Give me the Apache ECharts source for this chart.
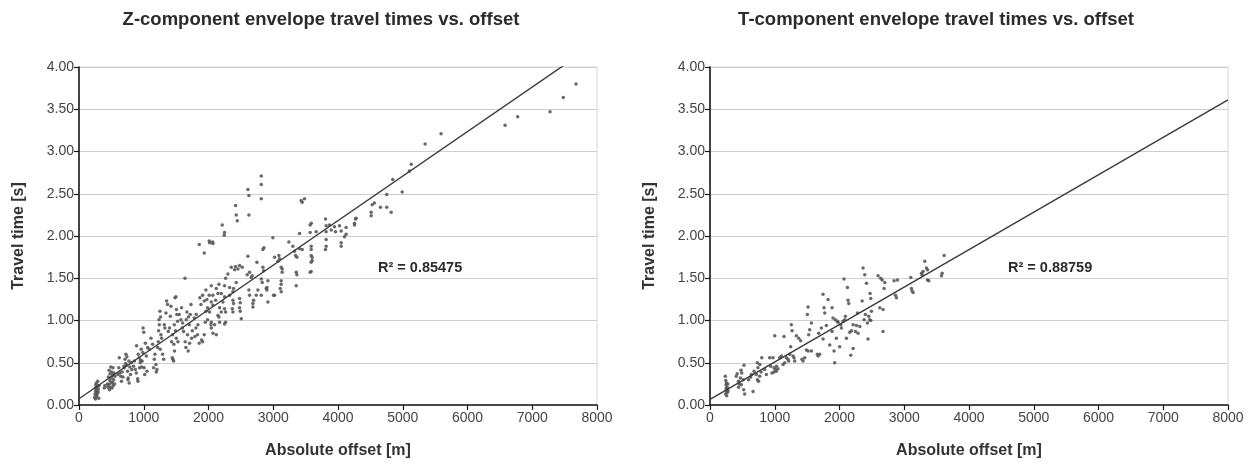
<!DOCTYPE html>
<html>
<head>
<meta charset="utf-8">
<script src="https://cdn.jsdelivr.net/npm/echarts@6.0.0/dist/echarts.min.js"></script>
<style>
  html, body { margin: 0; padding: 0; background: #fff; }
  #chart { width: 1252px; height: 464px; }
</style>
</head>
<body>
<div id="chart"></div>
<script>
// Envelope travel time picks: [absolute offset (m), travel time (s)]
const zPicks = [
  [240,0.09],[248,0.13],[252,0.20],[255,0.07],[258,0.16],[260,0.24],[262,0.11],[265,0.18],[268,0.26],[270,0.10],
  [272,0.14],[275,0.21],[278,0.12],[282,0.17],[285,0.22],[290,0.28],[295,0.15],[300,0.19],[305,0.08],[310,0.23],
  [390,0.20],[400,0.23],[440,0.25],[445,0.21],
  [455,0.33],[460,0.24],[465,0.41],[470,0.18],[475,0.29],[480,0.37],[485,0.21],[490,0.45],[495,0.26],[500,0.32],
  [505,0.39],[510,0.20],[515,0.27],[520,0.35],[525,0.44],[530,0.23],[535,0.30],[540,0.38],[548,0.25],[555,0.34],
  [600,0.36],[615,0.44],[622,0.56],[630,0.38],[645,0.34],[655,0.28],[665,0.39],[680,0.33],[695,0.46],[700,0.44],
  [710,0.54],[720,0.49],[725,0.60],[735,0.47],[740,0.57],[750,0.40],[755,0.30],[760,0.32],[770,0.52],[775,0.26],
  [785,0.45],[795,0.36],[805,0.50],[815,0.42],
  [843,0.46],[855,0.52],[870,0.42],[885,0.38],[890,0.70],[905,0.31],[910,0.28],[915,0.60],[930,0.56],[935,0.44],
  [945,0.50],[950,0.53],[960,0.66],[970,0.45],[975,0.52],[985,0.62],[990,0.91],[1000,0.86],[1005,0.44],[1015,0.36],
  [1025,0.73],[1040,0.58],[1050,0.40],[1060,0.68],
  [1085,0.66],[1111,0.79],[1137,0.72],[1152,0.44],[1163,0.54],[1173,0.60],[1188,0.48],[1193,0.39],[1204,0.42],[1214,0.68],
  [1224,0.75],[1235,1.01],[1240,0.95],[1250,1.11],[1255,0.66],[1265,0.83],[1276,0.79],[1291,0.60],[1307,0.54],[1317,0.95],
  [1327,0.91],[1343,1.09],[1230,0.88],[1260,1.04],
  [1353,1.23],[1368,1.19],[1379,0.87],[1399,0.91],[1410,1.05],[1420,1.17],[1430,0.75],[1440,0.56],[1445,0.83],[1450,0.54],
  [1461,0.52],[1465,0.72],[1471,0.95],[1475,0.64],[1482,1.27],[1497,1.28],[1502,0.79],[1512,1.07],[1523,0.99],[1528,0.75],
  [1490,0.88],[1505,1.13],
  [1548,1.07],[1574,1.01],[1584,1.15],[1595,0.91],[1615,0.87],[1636,1.50],[1640,0.75],[1651,0.68],[1656,1.01],[1667,1.10],
  [1677,0.83],[1687,0.64],[1703,0.95],[1708,0.73],[1718,1.07],[1729,1.19],[1739,0.79],[1600,0.97],[1690,1.04],[1750,0.88],
  [1780,1.03],[1790,0.81],[1806,0.91],[1811,1.07],[1831,0.83],[1837,0.95],[1857,0.73],[1857,1.90],[1867,1.27],[1883,1.19],
  [1893,0.77],[1909,1.30],[1909,0.75],[1934,1.23],[1934,0.83],[1934,1.80],[1960,1.11],[1960,1.36],[1986,1.01],[1986,1.15],
  [2011,1.30],[2011,1.94],[2037,0.95],[2063,1.93],[1950,0.98],[1975,1.25],
  [2017,1.92],[2068,1.91],[2017,1.10],[2043,1.41],[2043,1.22],[2043,0.98],[2043,0.91],[2068,1.30],[2068,1.18],[2068,0.85],
  [2094,0.95],[2110,1.24],[2120,1.38],[2120,0.83],[2146,1.32],[2146,1.06],[2161,1.43],[2161,1.04],[2171,1.15],[2171,0.98],
  [2197,1.32],[2197,1.10],[2212,2.13],[2223,1.22],[2243,2.01],[2248,2.04],[2248,1.41],[2248,1.28],[2248,1.14],[2248,0.96],
  [2264,1.50],[2264,1.10],[2264,0.98],[2300,1.55],[2326,1.39],[2326,1.30],[2351,1.63],[2367,1.14],[2377,1.34],[2377,1.24],
  [2377,1.10],[2387,1.38],[2387,1.20],[2403,1.60],[2418,2.36],[2418,1.64],[2428,2.25],[2428,1.45],[2444,2.18],[2454,1.61],
  [2480,1.65],[2480,1.26],[2480,1.15],[2490,1.21],[2490,1.11],[2506,1.02],[2521,1.63],
  [2598,1.54],[2609,2.55],[2609,1.76],[2624,2.48],[2624,2.25],[2624,1.36],[2634,1.57],[2634,1.30],[2660,1.51],[2675,1.53],
  [2686,1.20],[2686,1.16],[2696,1.24],[2737,1.30],[2747,1.69],[2763,1.36],[2815,2.71],[2815,2.61],[2815,2.44],[2815,1.49],
  [2815,1.30],[2830,1.45],[2840,1.84],[2840,1.63],[2850,1.59],[2856,1.86],[2892,1.38],[2902,1.39],[2902,1.36],[2917,1.47],
  [2917,1.22],[2994,1.98],[3005,1.30],[3020,1.75],[3020,1.30],[3072,1.70],[3087,1.77],[3097,1.73],[3108,1.38],[3123,1.63],
  [3123,1.47],[3123,1.43],[3123,1.34],[3138,1.61],[3138,1.57],
  [3241,1.93],[3303,1.88],[3329,1.82],[3344,1.77],[3355,1.57],[3355,1.41],[3365,1.75],[3365,1.54],[3406,2.03],[3406,1.85],
  [3432,2.42],[3447,2.40],[3447,1.84],[3483,2.44],[3570,2.13],[3570,2.04],[3570,1.57],[3586,1.88],[3586,1.84],[3586,1.77],
  [3586,1.69],[3586,1.58],[3601,1.75],[3601,1.71],[3587,2.15],[3663,2.05],
  [3807,2.20],[3817,2.12],[3817,2.05],[3817,1.96],[3817,1.88],[3807,1.84],[3869,2.13],[3895,2.07],[3946,2.11],[3961,2.05],
  [4023,2.12],[4049,2.06],[4049,1.92],[4049,1.88],[4100,1.99],[4126,2.02],[4125,2.10],[4255,2.13],[4270,2.20],[4280,2.21],
  [4255,2.15],
  [4512,2.24],[4512,2.28],[4527,2.37],[4563,2.39],[4656,2.34],[4753,2.34],[4753,2.49],[4821,2.28],[4846,2.67],[4991,2.52],
  [5103,2.77],[5130,2.85],[5345,3.09],[5592,3.21],[6580,3.31],[6775,3.41],[7275,3.47],[7480,3.64],[7676,3.80]
];

const tPicks = [
  [236,0.34],[240,0.13],[244,0.29],[248,0.24],[250,0.20],[252,0.18],[255,0.26],[258,0.11],[262,0.16],[266,0.21],
  [270,0.15],[274,0.25],[278,0.17],
  [405,0.34],[420,0.37],[440,0.28],[450,0.25],[442,0.21],[470,0.32],[480,0.41],[485,0.24],[490,0.38],[515,0.30],
  [520,0.18],[525,0.47],[535,0.13],
  [596,0.30],[628,0.33],[640,0.36],[665,0.16],[680,0.40],[715,0.36],[731,0.50],[732,0.30],[740,0.44],[750,0.28],
  [767,0.34],[770,0.48],[790,0.39],[800,0.56],[845,0.42],
  [870,0.36],[922,0.56],[937,0.46],[958,0.38],[973,0.56],[988,0.44],[989,0.39],[1000,0.82],[1009,0.42],[1025,0.40],
  [1025,0.46],[1050,0.43],[1076,0.56],
  [1102,0.58],[1128,0.48],[1143,0.81],[1153,0.50],[1179,0.56],[1205,0.54],[1215,0.52],[1231,0.60],[1246,0.69],[1256,0.95],
  [1267,0.88],[1282,0.58],[1298,0.56],[1308,0.52],[1334,0.82],[1370,0.79],[1400,0.76],
  [1421,0.54],[1437,0.52],[1463,0.56],[1488,0.65],[1504,1.07],[1514,1.16],[1514,0.64],[1524,0.83],[1540,0.89],[1566,0.97],
  [1566,0.64],[1658,0.60],[1669,0.58],[1694,0.60],[1679,0.85],[1720,0.91],[1746,0.78],[1746,1.31],[1761,1.15],[1772,1.09],
  [1797,0.94],[1823,1.25],[1849,0.71],
  [1885,1.15],[1885,0.87],[1900,1.03],[1916,0.64],[1926,0.50],[1936,1.01],[1952,0.79],[1967,0.99],[1978,0.98],[2003,0.69],
  [2019,0.95],[2029,0.91],[2055,0.99],[2070,1.49],[2081,1.01],[2091,1.05],[2107,0.79],[2122,1.39],[2132,1.24],[2143,1.20],
  [2158,0.86],[2174,0.59],[2184,0.88],[2210,0.67],[2210,0.95],
  [2246,0.87],[2261,0.94],[2277,1.09],[2287,0.85],[2313,0.93],[2349,1.23],[2364,1.62],[2380,1.01],[2390,1.54],[2400,1.07],
  [2416,1.44],[2431,0.97],[2441,0.78],[2452,1.05],[2467,1.01],[2472,1.32],[2483,1.26],[2483,1.00],[2493,1.11],
  [2596,1.53],[2622,1.15],[2637,1.50],[2658,1.48],[2673,1.13],[2673,0.87],[2689,1.38],[2700,1.45],[2843,1.47],[2864,1.30],
  [2879,1.27],[2895,1.48],
  [3101,1.51],[3111,1.38],[3121,1.35],[3137,1.33],[3266,1.56],[3276,1.54],[3291,1.58],[3317,1.70],[3343,1.62],[3359,1.48],
  [3379,1.47],[3359,1.60],
  [3575,1.53],[3585,1.56],[3616,1.77]
];

// Linear trend lines: travel time = intercept + slope * offset
const zTrend = { intercept: 0.074, slope: 0.000527 };
const tTrend = { intercept: 0.066, slope: 0.000443 };
const r2Labels = ['R\u00b2 = 0.85475', 'R\u00b2 = 0.88759'];

const titles = ['Z-component envelope travel times vs. offset', 'T-component envelope travel times vs. offset'];
const xName = 'Absolute offset [m]';
const yName = 'Travel time [s]';
const offsetRange = [0, 8000];

function trendPoints(tr) {
  return offsetRange.map(x => [x, tr.intercept + tr.slope * x]);
}

const FONT = 'Liberation Sans, Arial, sans-serif';
const axisColor = '#1a1a1a';

function makeXAxis(gridIndex) {
  return {
    gridIndex, type: 'value', min: 0, max: 8000, interval: 1000,
    name: xName, nameLocation: 'middle', nameGap: 38,
    nameTextStyle: { fontFamily: FONT, fontWeight: 'bold', fontSize: 16, color: '#333' },
    axisLine: { lineStyle: { color: axisColor, width: 1.6 } },
    axisTick: { show: true, length: 5, lineStyle: { color: axisColor, width: 1.2 } },
    axisLabel: { fontFamily: FONT, fontSize: 14, color: '#444', margin: 6, formatter: v => String(v) },
    splitLine: { show: false }
  };
}
function makeYAxis(gridIndex) {
  return {
    gridIndex, type: 'value', min: 0, max: 4, interval: 0.5,
    name: yName, nameLocation: 'middle', nameGap: 52, nameRotate: 90,
    nameTextStyle: { fontFamily: FONT, fontWeight: 'bold', fontSize: 16, color: '#333' },
    axisLine: { lineStyle: { color: axisColor, width: 1.6 } },
    axisTick: { show: true, length: 5, lineStyle: { color: axisColor, width: 1.2 } },
    axisLabel: { fontFamily: FONT, fontSize: 14, color: '#444', margin: 5, formatter: v => v.toFixed(2) },
    splitLine: { show: true, lineStyle: { color: '#cfcfcf', width: 1 } }
  };
}

const pointStyle = { color: '#595959', opacity: 0.9 };
const trendStyle = { color: '#3a3a3a', width: 1.4 };
const titleStyle = { fontFamily: FONT, fontWeight: 'bold', fontSize: 18.5, color: '#2b2b2b' };

const chart = echarts.init(document.getElementById('chart'), null, { renderer: 'canvas' });
chart.setOption({
  backgroundColor: '#ffffff',
  animation: false,
  title: [
    { text: titles[0], left: 316, top: 5, textAlign: 'center', textStyle: titleStyle },
    { text: titles[1], left: 931, top: 5, textAlign: 'center', textStyle: titleStyle }
  ],
  grid: [
    { left: 79, top: 67, width: 518, height: 340, show: true, borderColor: '#d6d6d6', borderWidth: 1, backgroundColor: 'transparent' },
    { left: 710, top: 67, width: 518, height: 340, show: true, borderColor: '#d6d6d6', borderWidth: 1, backgroundColor: 'transparent' }
  ],
  xAxis: [makeXAxis(0), makeXAxis(1)],
  yAxis: [makeYAxis(0), makeYAxis(1)],
  series: [
    { type: 'scatter', xAxisIndex: 0, yAxisIndex: 0, data: zPicks, symbol: 'circle', symbolSize: 3.5, itemStyle: pointStyle },
    { type: 'line', xAxisIndex: 0, yAxisIndex: 0, data: trendPoints(zTrend), showSymbol: false, clip: true, lineStyle: trendStyle, z: 3 },
    { type: 'scatter', xAxisIndex: 1, yAxisIndex: 1, data: tPicks, symbol: 'circle', symbolSize: 3.5, itemStyle: pointStyle },
    { type: 'line', xAxisIndex: 1, yAxisIndex: 1, data: trendPoints(tTrend), showSymbol: false, clip: true, lineStyle: trendStyle, z: 3 }
  ],
  graphic: [
    { type: 'text', left: 378, top: 260, style: { text: r2Labels[0], font: 'bold 14.5px ' + FONT, fill: '#2b2b2b' } },
    { type: 'text', left: 1008, top: 260, style: { text: r2Labels[1], font: 'bold 14.5px ' + FONT, fill: '#2b2b2b' } }
  ]
});
</script>
</body>
</html>
